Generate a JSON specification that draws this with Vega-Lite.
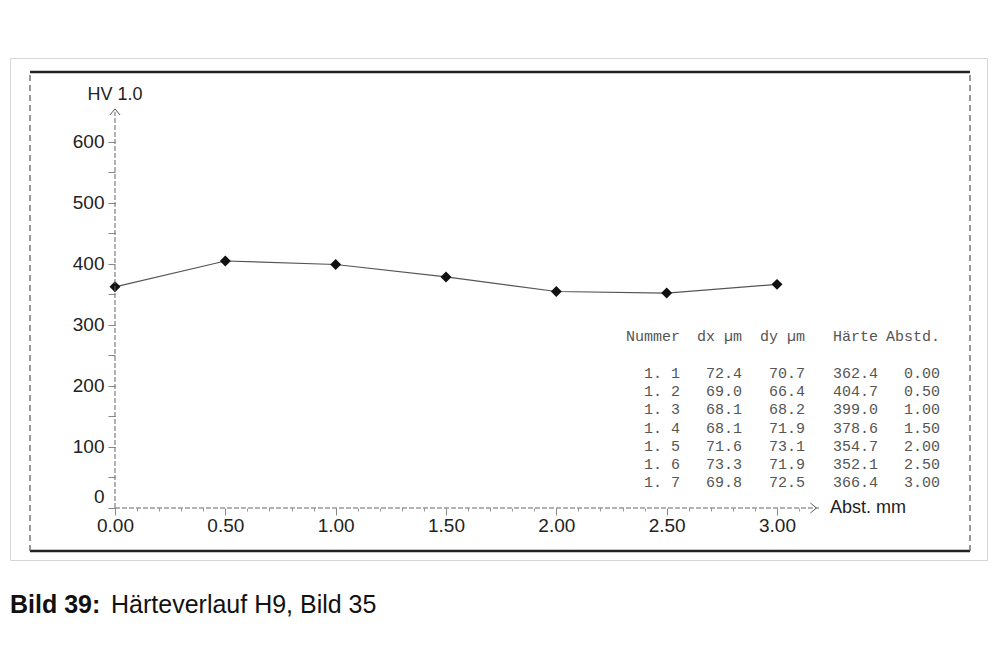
{
  "$schema": "https://vega.github.io/schema/vega-lite/v6.json",
  "width": 977,
  "height": 502,
  "autosize": {"type": "none"},
  "padding": {"left": 10, "top": 58, "right": 12, "bottom": 106},
  "background": "white",
  "config": {"view": {"stroke": "#d6d6d6", "strokeWidth": 1}, "font": "Liberation Sans"},
  "data": {"values": [
    {"nr": "1. 1", "dx": 72.4, "dy": 70.7, "haerte": 362.4, "abst": 0.00},
    {"nr": "1. 2", "dx": 69.0, "dy": 66.4, "haerte": 404.7, "abst": 0.50},
    {"nr": "1. 3", "dx": 68.1, "dy": 68.2, "haerte": 399.0, "abst": 1.00},
    {"nr": "1. 4", "dx": 68.1, "dy": 71.9, "haerte": 378.6, "abst": 1.50},
    {"nr": "1. 5", "dx": 71.6, "dy": 73.1, "haerte": 354.7, "abst": 2.00},
    {"nr": "1. 6", "dx": 73.3, "dy": 71.9, "haerte": 352.1, "abst": 2.50},
    {"nr": "1. 7", "dx": 69.8, "dy": 72.5, "haerte": 366.4, "abst": 3.00}
  ]},
  "resolve": {"scale": {"y": "independent"}, "axis": {"x": "independent", "y": "independent"}},
  "layer": [
    {
      "layer": [
        {
          "mark": {"type": "line", "color": "#555", "strokeWidth": 1.2},
          "encoding": {
            "x": {"field": "abst", "type": "quantitative",
              "scale": {"domain": [-0.4758, 3.9516], "zero": false, "nice": false},
              "axis": {"orient": "bottom", "offset": -52, "domain": false, "grid": false, "title": null,
                "values": [0, 0.5, 1, 1.5, 2, 2.5, 3],
                "format": ".2f",
                "tickSize": 7,
                "tickColor": "#888", "labelFontSize": 19, "labelColor": "#222", "labelPadding": 1,
                "labelOverlap": false, "labelFlush": false, "labelBound": false}},
            "y": {"field": "haerte", "type": "quantitative",
              "scale": {"domain": [-85.2, 737.3], "zero": false, "nice": false},
              "axis": {"orient": "left", "offset": -105, "domain": false, "grid": false, "title": null,
                "values": [0, 50, 100, 150, 200, 250, 300, 350, 400, 450, 500, 550, 600],
                "labelExpr": "datum.value % 100 == 0 ? datum.label : ''",
                "labelOffset": {"condition": {"test": "datum.value == 0", "value": -11}, "value": 0},
                "tickSize": 7,
                "tickColor": "#888", "labelFontSize": 19, "labelColor": "#222", "labelPadding": 4,
                "labelOverlap": false, "labelFlush": false, "labelBound": false}}
          }
        },
        {
          "mark": {"type": "point", "shape": "diamond", "filled": true, "color": "#111", "size": 120, "opacity": 1},
          "encoding": {
            "x": {"field": "abst", "type": "quantitative"},
            "y": {"field": "haerte", "type": "quantitative"}
          }
        },
        {
          "data": {"values": [{}]},
          "mark": {"type": "rule", "color": "#666", "strokeWidth": 1, "strokeDash": [5, 2]},
          "encoding": {"x": {"datum": 0}, "y": {"datum": 0}, "y2": {"datum": 649}}
        },
        {
          "data": {"values": [{}]},
          "mark": {"type": "rule", "color": "#666", "strokeWidth": 1, "strokeDash": [5, 2]},
          "encoding": {"x": {"datum": 0}, "x2": {"datum": 3.19}, "y": {"datum": 0}}
        },
        {
          "data": {"values": [{}]},
          "mark": {"type": "point", "shape": "M-1,0.6L0,-0.6L1,0.6", "filled": false, "stroke": "#555", "strokeWidth": 1, "size": 100, "opacity": 1},
          "encoding": {"x": {"datum": 0}, "y": {"datum": 649}}
        },
        {
          "data": {"values": [{}]},
          "mark": {"type": "point", "shape": "M-0.6,-1L0.6,0L-0.6,1", "filled": false, "stroke": "#555", "strokeWidth": 1, "size": 100, "opacity": 1},
          "encoding": {"x": {"datum": 3.165}, "y": {"datum": 0}}
        },
        {
          "data": {"values": [{}]},
          "mark": {"type": "text", "text": "HV 1.0", "fontSize": 18, "color": "#222", "align": "center", "baseline": "middle"},
          "encoding": {"x": {"datum": 0}, "y": {"datum": 676.7}}
        },
        {
          "data": {"values": [{}]},
          "mark": {"type": "text", "text": "Abst. mm", "fontSize": 18, "color": "#222", "align": "left", "baseline": "middle"},
          "encoding": {"x": {"datum": 3.24}, "y": {"datum": 0}}
        },
        {
          "data": {"values": [{}]},
          "mark": {"type": "text", "text": "Nummer", "font": "Liberation Mono", "fontSize": 15, "color": "#555", "align": "right", "baseline": "middle"},
          "encoding": {"x": {"datum": 2.56}, "y": {"datum": 281.8}}
        },
        {
          "data": {"values": [{}]},
          "mark": {"type": "text", "text": "dx µm", "font": "Liberation Mono", "fontSize": 15, "color": "#555", "align": "right", "baseline": "middle"},
          "encoding": {"x": {"datum": 2.841}, "y": {"datum": 281.8}}
        },
        {
          "data": {"values": [{}]},
          "mark": {"type": "text", "text": "dy µm", "font": "Liberation Mono", "fontSize": 15, "color": "#555", "align": "right", "baseline": "middle"},
          "encoding": {"x": {"datum": 3.127}, "y": {"datum": 281.8}}
        },
        {
          "data": {"values": [{}]},
          "mark": {"type": "text", "text": "Härte", "font": "Liberation Mono", "fontSize": 15, "color": "#555", "align": "right", "baseline": "middle"},
          "encoding": {"x": {"datum": 3.458}, "y": {"datum": 281.8}}
        },
        {
          "data": {"values": [{}]},
          "mark": {"type": "text", "text": "Abstd.", "font": "Liberation Mono", "fontSize": 15, "color": "#555", "align": "right", "baseline": "middle"},
          "encoding": {"x": {"datum": 3.739}, "y": {"datum": 281.8}}
        },
        {
          "data": {"values": [{}]},
          "mark": {"type": "rule", "color": "#222", "strokeWidth": 2.5},
          "encoding": {"x": {"datum": -0.3852}, "x2": {"datum": 3.8746}, "y": {"datum": 714.4}}
        },
        {
          "data": {"values": [{}]},
          "mark": {"type": "rule", "color": "#222", "strokeWidth": 2.5},
          "encoding": {"x": {"datum": -0.3852}, "x2": {"datum": 3.8746}, "y": {"datum": -70.5}}
        },
        {
          "data": {"values": [{}]},
          "mark": {"type": "rule", "color": "#555", "strokeWidth": 1.2, "strokeDash": [6, 4]},
          "encoding": {"x": {"datum": -0.3852}, "y": {"datum": -70.5}, "y2": {"datum": 714.4}}
        },
        {
          "data": {"values": [{}]},
          "mark": {"type": "rule", "color": "#555", "strokeWidth": 1.2, "strokeDash": [6, 4]},
          "encoding": {"x": {"datum": 3.8746}, "y": {"datum": -70.5}, "y2": {"datum": 714.4}}
        },
        {
          "data": {"values": [{}]},
          "mark": {"type": "text", "text": "Bild 39:", "font": "Liberation Sans", "fontWeight": "bold", "fontSize": 25, "color": "#111", "align": "left", "baseline": "middle"},
          "encoding": {"x": {"datum": -0.4758}, "y": {"datum": -158.9}}
        },
        {
          "data": {"values": [{}]},
          "mark": {"type": "text", "text": "Härteverlauf H9, Bild 35", "font": "Liberation Sans", "fontSize": 25, "color": "#111", "align": "left", "baseline": "middle"},
          "encoding": {"x": {"datum": -0.018}, "y": {"datum": -158.9}}
        }
      ]
    },
    {
      "encoding": {
        "y": {"field": "nr", "type": "ordinal", "axis": null, "scale": {"type": "point", "range": [315, 424], "padding": 0}}
      },
      "layer": [
        {
          "mark": {"type": "text", "font": "Liberation Mono", "fontSize": 15, "color": "#555", "align": "right", "baseline": "middle"},
          "encoding": {
            "x": {"datum": 2.56,
              "axis": {"orient": "bottom", "offset": -52, "domain": false, "grid": false, "title": null, "labels": false,
                "values": [0.1, 0.2, 0.3, 0.4, 0.6, 0.7, 0.8, 0.9, 1.1, 1.2, 1.3, 1.4, 1.6, 1.7, 1.8, 1.9, 2.1, 2.2, 2.3, 2.4, 2.6, 2.7, 2.8, 2.9, 3.1],
                "tickSize": 3, "tickColor": "#999"}},
            "text": {"field": "nr", "type": "nominal"}}
        },
        {
          "mark": {"type": "text", "font": "Liberation Mono", "fontSize": 15, "color": "#555", "align": "right", "baseline": "middle"},
          "encoding": {"x": {"datum": 2.841}, "text": {"field": "dx", "type": "quantitative", "format": ".1f"}}
        },
        {
          "mark": {"type": "text", "font": "Liberation Mono", "fontSize": 15, "color": "#555", "align": "right", "baseline": "middle"},
          "encoding": {"x": {"datum": 3.127}, "text": {"field": "dy", "type": "quantitative", "format": ".1f"}}
        },
        {
          "mark": {"type": "text", "font": "Liberation Mono", "fontSize": 15, "color": "#555", "align": "right", "baseline": "middle"},
          "encoding": {"x": {"datum": 3.458}, "text": {"field": "haerte", "type": "quantitative", "format": ".1f"}}
        },
        {
          "mark": {"type": "text", "font": "Liberation Mono", "fontSize": 15, "color": "#555", "align": "right", "baseline": "middle"},
          "encoding": {"x": {"datum": 3.739}, "text": {"field": "abst", "type": "quantitative", "format": ".2f"}}
        }
      ]
    }
  ]
}
